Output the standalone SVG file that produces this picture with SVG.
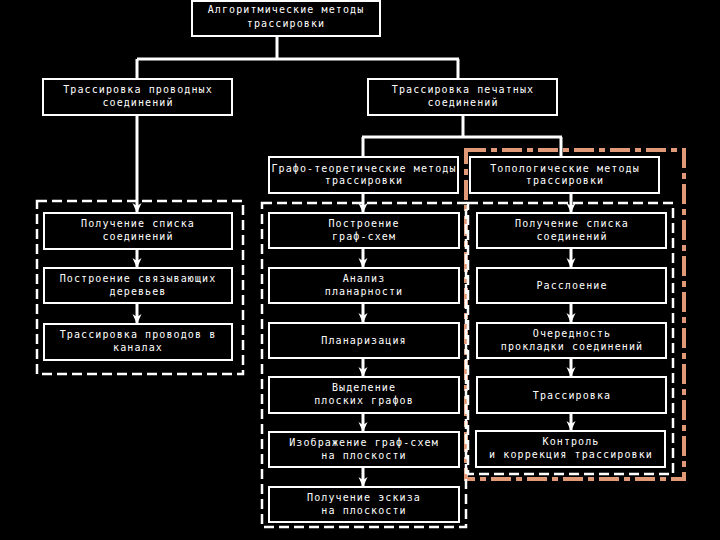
<svg xmlns="http://www.w3.org/2000/svg" width="720" height="540" viewBox="0 0 720 540">
<defs>
<style>
.box{fill:#000;stroke:#fff;stroke-width:2}
.t{fill:#fff;font-family:"DejaVu Sans Mono","Liberation Mono",monospace;font-size:10px;letter-spacing:1.1px;text-anchor:middle}
.c{stroke:#fff;stroke-width:3;fill:none}
.a{stroke:#fff;stroke-width:3;fill:none;marker-end:url(#ah)}
.dash{fill:none;stroke:#fff;stroke-width:2.5;stroke-dasharray:10 5}
.dd{fill:none;stroke:#e09a78;stroke-width:4;stroke-dasharray:20 5 6 5}
</style>
<marker id="ah" markerUnits="userSpaceOnUse" markerWidth="12" markerHeight="12" refX="10" refY="0" viewBox="0 -6 12 12" orient="auto">
<path d="M0,-4.5 L10,0 L0,4.5 L3,0 Z" fill="#fff"/>
</marker>
</defs>
<rect width="720" height="540" fill="#000"/>

<g id="containers">
<rect class="dd" x="466" y="150" width="218" height="329"/>
<rect class="dash" x="37" y="201" width="206" height="173"/>
<rect class="dash" x="262" y="203" width="204" height="324"/>
<rect class="dash" x="468" y="203" width="205" height="271"/>
</g>

<g id="connectors">
<path class="c" d="M277,36 V59 M137,59 H459 M137,59 V79 M458,59 V79 M463,115 V137 M362,137 H562 M363,137 V157 M561,137 V157"/>
<path class="a" d="M137,115 V213"/>
<path class="a" d="M137,249 V268"/>
<path class="a" d="M137,303 V324"/>
<path class="a" d="M363,193 V213"/>
<path class="a" d="M363,248 V268"/>
<path class="a" d="M363,303 V323"/>
<path class="a" d="M363,358 V377"/>
<path class="a" d="M363,413 V432"/>
<path class="a" d="M363,467 V487"/>
<path class="a" d="M571,193 V213"/>
<path class="a" d="M571,248 V268"/>
<path class="a" d="M571,303 V323"/>
<path class="a" d="M571,358 V377"/>
<path class="a" d="M571,413 V431"/>
</g>

<g id="n-root"><rect class="box" x="192" y="1" width="188" height="35"/>
<text class="t" x="286" y="13">Алгоритмические методы</text><text class="t" x="286" y="27">трассировки</text></g>

<g id="n-wire"><rect class="box" x="43" y="79" width="189" height="36"/>
<text class="t" x="138" y="93">Трассировка проводных</text><text class="t" x="138" y="106">соединений</text></g>

<g id="n-pcb"><rect class="box" x="368" y="79" width="189" height="36"/>
<text class="t" x="463" y="93">Трассировка печатных</text><text class="t" x="463" y="106">соединений</text></g>

<g id="n-graph"><rect class="box" x="269" y="157" width="189" height="36"/>
<text class="t" x="364" y="172">Графо-теоретические методы</text><text class="t" x="364" y="184">трассировки</text></g>

<g id="n-topo"><rect class="box" x="470" y="157" width="189" height="36"/>
<text class="t" x="565" y="172">Топологические методы</text><text class="t" x="565" y="184">трассировки</text></g>

<g id="n-l1"><rect class="box" x="44" y="213" width="188" height="36"/>
<text class="t" x="138" y="227">Получение списка</text><text class="t" x="138" y="240">соединений</text></g>
<g id="n-l2"><rect class="box" x="44" y="268" width="188" height="35"/>
<text class="t" x="138" y="282">Построение связывающих</text><text class="t" x="138" y="295">деревьев</text></g>
<g id="n-l3"><rect class="box" x="44" y="324" width="188" height="36"/>
<text class="t" x="138" y="338">Трассировка проводов в</text><text class="t" x="138" y="351">каналах</text></g>

<g id="n-m1"><rect class="box" x="269" y="213" width="190" height="35"/>
<text class="t" x="364" y="227">Построение</text><text class="t" x="364" y="240">граф-схем</text></g>
<g id="n-m2"><rect class="box" x="269" y="268" width="190" height="35"/>
<text class="t" x="364" y="282">Анализ</text><text class="t" x="364" y="295">планарности</text></g>
<g id="n-m3"><rect class="box" x="269" y="323" width="190" height="35"/>
<text class="t" x="364" y="344">Планаризация</text></g>
<g id="n-m4"><rect class="box" x="269" y="377" width="190" height="36"/>
<text class="t" x="364" y="391">Выделение</text><text class="t" x="364" y="404">плоских графов</text></g>
<g id="n-m5"><rect class="box" x="269" y="432" width="190" height="35"/>
<text class="t" x="364" y="446">Изображение граф-схем</text><text class="t" x="364" y="459">на плоскости</text></g>
<g id="n-m6"><rect class="box" x="269" y="487" width="190" height="35"/>
<text class="t" x="364" y="501">Получение эскиза</text><text class="t" x="364" y="514">на плоскости</text></g>

<g id="n-r1"><rect class="box" x="477" y="213" width="189" height="35"/>
<text class="t" x="572" y="227">Получение списка</text><text class="t" x="572" y="240">соединений</text></g>
<g id="n-r2"><rect class="box" x="477" y="268" width="189" height="35"/>
<text class="t" x="572" y="289">Расслоение</text></g>
<g id="n-r3"><rect class="box" x="477" y="323" width="189" height="35"/>
<text class="t" x="572" y="337">Очередность</text><text class="t" x="572" y="350">прокладки соединений</text></g>
<g id="n-r4"><rect class="box" x="477" y="377" width="189" height="36"/>
<text class="t" x="572" y="399">Трассировка</text></g>
<g id="n-r5"><rect class="box" x="476" y="431" width="189" height="36"/>
<text class="t" x="571" y="445">Контроль</text><text class="t" x="571" y="458">и коррекция трассировки</text></g>
</svg>
